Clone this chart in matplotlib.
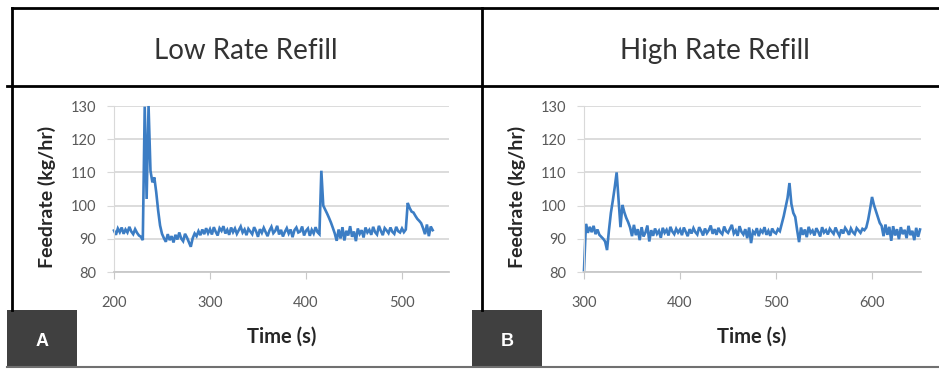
#------------------------------------------------------------#
# STEP 1: setup                                              #
#------------------------------------------------------------#

import numpy as np
import matplotlib
matplotlib.use('Agg')
import matplotlib.pyplot as plt
from matplotlib.lines import Line2D
from matplotlib.patches import Rectangle

plt.rcParams['font.family'] = ['Lato', 'DejaVu Sans']

W, H = 939, 369

# Sampling grid (s) of the feeder log, one reading every 2 s
step_s = 2
start_a, end_a = 200, 532
start_b, end_b = 300, 650

# Low rate refill, feedrate (kg/hr)
feed_a = [92.5, 91.2, 93.1, 92.0, 93.4, 91.5, 92.8, 91.9, 93.6, 92.2,
          91.4, 92.9, 91.8, 91.0, 90.6, 89.6, 129.8, 102.0, 130.0, 110.5,
          107.0, 108.5, 104.0, 98.5, 94.0, 91.5, 90.2, 89.1, 91.4, 89.6,
          90.8, 88.9, 91.2, 89.8, 91.9, 90.1, 89.3, 91.5, 90.4, 89.0,
          87.6, 90.2, 91.6, 90.8, 92.3, 91.1, 92.8, 91.4, 93.2, 91.7,
          92.9, 91.3, 93.5, 92.1, 91.0, 93.2, 92.4, 93.8, 91.6, 92.7,
          91.2, 93.4, 92.0, 93.1, 91.5, 92.6, 93.7, 91.9, 92.8, 91.1,
          93.0, 92.2, 91.4, 93.5, 92.3, 90.6, 92.9, 91.8, 93.3, 92.0,
          90.8, 92.5, 93.6, 91.7, 92.4, 93.9, 91.3, 92.7, 90.7, 92.1,
          93.2, 91.6, 92.8, 90.5, 92.6, 93.4, 91.9, 92.2, 93.7, 91.0,
          92.4, 93.1, 90.9, 92.7, 91.6, 93.5, 92.0, 91.4, 110.5, 100.0,
          98.8, 97.6, 96.3, 94.9, 93.3, 91.6, 89.4, 92.8, 90.1, 93.5,
          89.5, 92.4, 91.0, 93.8, 90.6, 92.2, 89.3, 93.1, 91.5, 92.6,
          90.4, 93.4, 91.9, 92.7, 91.2, 93.6, 92.0, 91.3, 93.9, 92.4,
          91.1, 93.2, 92.5, 91.7, 93.4, 92.1, 91.5, 93.6, 92.3, 91.9,
          93.1, 92.0, 92.8, 100.8, 99.3, 98.2, 97.9, 96.9, 96.0, 95.4,
          94.7, 93.2, 91.4, 94.3, 90.8, 93.7, 92.6]

# High rate refill, feedrate (kg/hr)
feed_b = [80.5, 94.5, 91.8, 93.6, 92.0, 93.9, 91.4, 92.8, 91.2, 90.6,
          90.0, 89.2, 86.6, 92.6, 97.8, 101.5, 105.5, 110.0, 101.7, 93.5,
          100.2, 98.0, 96.3, 95.0, 93.4, 90.8, 94.2, 91.1, 92.9, 89.6,
          93.5, 90.7, 91.9, 94.0, 89.2, 92.6, 90.9, 93.1, 91.5, 92.4,
          90.3, 93.3, 91.8, 92.7, 91.0, 93.6, 92.2, 91.4, 93.0, 91.9,
          92.8, 91.1, 93.4, 92.1, 90.8, 92.9, 91.6, 93.2, 92.0, 91.3,
          93.5, 92.4, 91.0, 93.1, 91.7, 92.6, 94.0, 91.5, 92.9, 91.2,
          93.3, 92.0, 91.4, 93.7, 92.3, 91.8, 93.0, 94.2, 91.6, 92.5,
          90.9, 93.8, 92.1, 91.3, 92.9, 90.2, 93.4, 88.7, 92.2, 91.5,
          93.2, 90.8, 92.6, 91.9, 93.5, 91.2, 92.4, 90.9, 93.1, 92.0,
          91.6, 92.9, 92.3, 94.5, 96.8, 99.5, 102.3, 106.8, 100.5, 97.8,
          96.6, 92.6, 89.0, 93.4, 91.2, 92.8, 90.5, 93.6, 91.8, 92.5,
          91.0, 93.2, 92.1, 90.7, 93.5, 91.9, 92.6, 91.3, 93.0, 92.2,
          91.5, 93.4, 92.0, 90.9, 92.8, 91.6, 93.3, 92.4, 91.2, 93.1,
          92.0, 91.4, 93.2, 92.5, 91.8, 93.0, 92.6, 93.4, 95.8, 99.0,
          102.6, 100.2, 98.4, 96.6, 94.8, 93.9, 90.8, 94.3, 91.2, 93.6,
          89.4, 93.8, 91.0, 92.9, 89.9, 93.5, 91.4, 92.7, 90.2, 93.9,
          91.1, 92.4, 89.6, 93.3, 90.6, 92.8]

titles = ['Low Rate Refill', 'High Rate Refill']
panel_tags = ['A', 'B']
x_ticks_a = [200, 300, 400, 500]
x_ticks_b = [300, 400, 500, 600]
y_ticks = [80, 90, 100, 110, 120, 130]

line_blue = '#3C7DC4'
grid_grey = '#D9D9D9'
tick_grey = '#595959'


def fx(x):
    return x / W


def fy(y):
    return 1 - y / H


#------------------------------------------------------------#
# STEP 2: define function                                    #
#------------------------------------------------------------#

def feed_panel(fig, left_px, right_px, time, feed, xlim, xticks):

    ''' One Excel-like feedrate chart '''

    ax = fig.add_axes([fx(left_px), fy(272), fx(right_px - left_px),
                       (272 - 106) / H])
    ax.plot(time, feed, color = line_blue, lw = 1.9, clip_on = False,
            solid_joinstyle = 'miter')

    ax.set_xlim(xlim)
    ax.set_ylim(80, 130)
    ax.set_xticks(xticks)
    ax.set_yticks(y_ticks)
    ax.grid(axis = 'y', color = grid_grey, lw = 1.3)
    ax.set_axisbelow(True)

    for pos in ['right', 'top']:
        ax.spines[pos].set_visible(False)
    ax.spines['left'].set_color(grid_grey)
    ax.spines['bottom'].set_color('#C8C8C8')
    ax.spines['bottom'].set_linewidth(1.3)

    ax.tick_params(axis = 'x', length = 5, color = '#C8C8C8', pad = 12,
                   labelsize = 10.5, labelcolor = tick_grey)
    ax.tick_params(axis = 'y', length = 5, color = grid_grey, pad = 8,
                   labelsize = 10.5, labelcolor = tick_grey)
    return ax


#------------------------------------------------------------#
# STEP 3: draw                                               #
#------------------------------------------------------------#

fig = plt.figure(figsize = (W / 100, H / 100), dpi = 100)

time_a = np.arange(start_a, end_a + 1, step_s)
time_b = np.arange(start_b, end_b + 1, step_s)

feed_panel(fig, 114, 449, time_a, feed_a, (200, 549), x_ticks_a)
feed_panel(fig, 584, 921, time_b, feed_b, (300, 651), x_ticks_b)

# Table frame round the two panels
frame = [([12, W], [8, 8], 'k', 2.0),
         ([7, W], [86, 86], 'k', 2.0),
         ([12, 12], [8, 310], 'k', 2.0),
         ([482, 482], [8, 310], 'k', 2.0),
         ([7, W], [367, 367], '#707070', 1.5)]
for xs, ys, col, lw in frame:
    fig.add_artist(Line2D([fx(v) for v in xs], [fy(v) for v in ys],
                          color = col, lw = lw, transform = fig.transFigure))

# Titles and axis labels
for cx, title in zip([246, 715], titles):
    fig.text(fx(cx), fy(51), title, ha = 'center', va = 'center',
             fontsize = 20, color = '#333333')

for cx in [282, 752]:
    fig.text(fx(cx), fy(337), 'Time (s)', ha = 'center', va = 'center',
             fontsize = 14.5, fontweight = 'bold', color = '#262626')

for cx in [47, 517]:
    fig.text(fx(cx), fy(197), 'Feedrate (kg/hr)', ha = 'center',
             va = 'center', rotation = 90, fontsize = 14,
             fontweight = 'bold', color = '#262626')

# Panel tags
for x0, tag in zip([7, 472], panel_tags):
    fig.add_artist(Rectangle((fx(x0), fy(367)), fx(70), 57 / H,
                             facecolor = '#404040', edgecolor = 'none',
                             transform = fig.transFigure))
    fig.text(fx(x0 + 35), fy(342), tag, ha = 'center', va = 'center',
             fontsize = 13, fontweight = 'bold', color = 'white',
             family = ['Liberation Sans', 'DejaVu Sans'])

fig.savefig('out.png', dpi = 100)
